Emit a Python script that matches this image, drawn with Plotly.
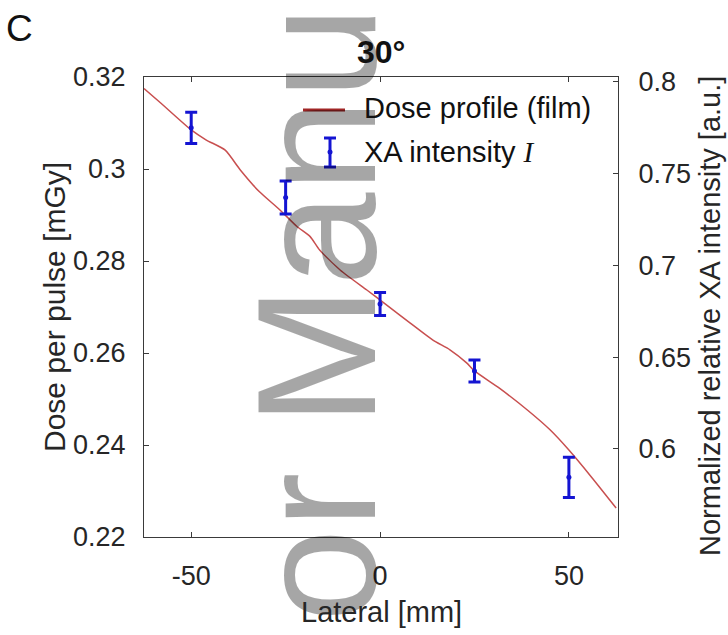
import plotly.graph_objects as go

# Film dose profile along the lateral direction (left axis)
lateral_mm = [-62.5, -58, -50, -46, -41, -37, -32, -26.5, -22, -18.5, -16, -10.5,
              -3.5, 1, 8, 14, 18.5, 23, 25, 31.5, 39, 45, 50, 56, 62.5]
dose_mgy = [0.3175, 0.3143, 0.3085, 0.3063, 0.3041, 0.2998, 0.2951, 0.2911,
            0.2875, 0.2853, 0.2824, 0.2780, 0.2737, 0.2709, 0.2665, 0.2628,
            0.2607, 0.2578, 0.2561, 0.2524, 0.2476, 0.2433, 0.2389, 0.2330, 0.2263]

# XA intensity measurements with uncertainties (right axis)
xa_lateral = [-50, -25, 0, 25, 50]
xa_intensity = [0.775, 0.737, 0.679, 0.6425, 0.5845]
xa_error = [0.0085, 0.009, 0.0063, 0.006, 0.011]

# Tick values and labels
x_ticks = [-50, 0, 50]
x_ticktext = ["-50", "0", "50"]
dose_ticks = [0.22, 0.24, 0.26, 0.28, 0.30, 0.32]
dose_ticktext = ["0.22", "0.24", "0.26", "0.28", "0.3", "0.32"]
xa_ticks = [0.6, 0.65, 0.7, 0.75, 0.8]
xa_ticktext = ["0.6", "0.65", "0.7", "0.75", "0.8"]

TEXT = "#262626"
AXIS = "#3a3a3a"
FONT = "Liberation Sans, Arial, sans-serif"
LINE_RED = "#c84f4f"
LEGEND_RED = "#a02525"
BLUE = "#1414d2"

fig = go.Figure()

fig.add_trace(go.Scatter(
    x=lateral_mm, y=dose_mgy, mode="lines",
    line=dict(color=LINE_RED, width=1.5, shape="spline", smoothing=0.6),
    name="Dose profile (film)", yaxis="y", showlegend=False,
))

fig.add_trace(go.Scatter(
    x=xa_lateral, y=xa_intensity, mode="markers",
    marker=dict(color=BLUE, size=5),
    error_y=dict(type="data", array=xa_error, color=BLUE, thickness=3, width=6),
    name="XA intensity I", yaxis="y2", showlegend=False,
))

W, H = 728, 635
L, R, T, B = 144, 110, 77, 98
pw, ph = W - L - R, H - T - B


def px(x):
    return (x - L) / pw


def py(y):
    return (H - B - y) / ph


axis_common = dict(
    showline=True, linecolor=AXIS, linewidth=1.2,
    ticks="inside", ticklen=5, tickcolor=AXIS, tickwidth=1,
    showgrid=False, zeroline=False,
    tickfont=dict(family=FONT, size=27, color=TEXT),
)

fig.update_layout(
    width=W, height=H,
    margin=dict(l=L, r=R, t=T, b=B),
    paper_bgcolor="white", plot_bgcolor="white",
    showlegend=False,
    xaxis=dict(range=[-62.5, 63], tickvals=x_ticks, ticktext=x_ticktext,
               mirror="ticks", ticklabelstandoff=14, **axis_common),
    yaxis=dict(range=[0.22, 0.32], tickvals=dose_ticks, ticktext=dose_ticktext,
               ticklabelstandoff=12, **axis_common),
    yaxis2=dict(range=[0.552, 0.8027], tickvals=xa_ticks, ticktext=xa_ticktext,
                overlaying="y", side="right", ticklabelstandoff=14, **axis_common),
)

annotations = []

# Background watermark
annotations.append(dict(
    text="or Manu", x=px(317), y=py(314), xref="paper", yref="paper",
    xanchor="center", yanchor="middle", textangle=-90, showarrow=False,
    font=dict(family=FONT, size=168, color="rgba(0,0,0,0.35)"),
))

# Panel letter and title
annotations.append(dict(
    text="C", x=px(20), y=py(29), xref="paper", yref="paper",
    xanchor="center", yanchor="middle", showarrow=False,
    font=dict(family=FONT, size=37, color="#111111"),
))
annotations.append(dict(
    text="<b>30°</b>", x=0.5, y=py(52), xref="paper", yref="paper",
    xanchor="center", yanchor="middle", showarrow=False,
    font=dict(family=FONT, size=32, color="#111111"),
))

# Axis titles
annotations.append(dict(
    text="Lateral [mm]", x=0.5, y=py(612), xref="paper", yref="paper",
    xanchor="center", yanchor="middle", showarrow=False,
    font=dict(family=FONT, size=29, color=TEXT),
))
annotations.append(dict(
    text="Dose per pulse [mGy]", x=px(54), y=0.5, xref="paper", yref="paper",
    xanchor="center", yanchor="middle", textangle=-90, showarrow=False,
    font=dict(family=FONT, size=30, color=TEXT),
))
annotations.append(dict(
    text="Normalized relative XA intensity [a.u.]", x=px(710), y=py(316),
    xref="paper", yref="paper", xanchor="center", yanchor="middle",
    textangle=-90, showarrow=False,
    font=dict(family=FONT, size=29, color=TEXT),
))

# Legend entries
annotations.append(dict(
    text="Dose profile (film)", x=px(362), y=py(108), xref="paper", yref="paper",
    xanchor="left", yanchor="middle", showarrow=False,
    font=dict(family=FONT, size=29, color="#111111"),
))
annotations.append(dict(
    text="XA intensity <i><span style='font-family:Liberation Serif, Times New Roman, serif'>I</span></i>",
    x=px(362), y=py(152), xref="paper", yref="paper",
    xanchor="left", yanchor="middle", showarrow=False,
    font=dict(family=FONT, size=29, color="#111111"),
))
fig.update_layout(annotations=annotations)

# Legend symbols
shapes = [
    dict(type="line", xref="paper", yref="paper", x0=px(303), x1=px(345),
         y0=py(110), y1=py(110), line=dict(color=LEGEND_RED, width=3)),
    dict(type="line", xref="paper", yref="paper", x0=px(330), x1=px(330),
         y0=py(138), y1=py(167), line=dict(color=BLUE, width=3)),
    dict(type="line", xref="paper", yref="paper", x0=px(324), x1=px(336),
         y0=py(138), y1=py(138), line=dict(color=BLUE, width=3)),
    dict(type="line", xref="paper", yref="paper", x0=px(324), x1=px(336),
         y0=py(167), y1=py(167), line=dict(color=BLUE, width=3)),
    dict(type="circle", xref="paper", yref="paper", x0=px(327.5), x1=px(332.5),
         y0=py(149.5), y1=py(154.5), fillcolor=BLUE, line=dict(width=0)),
]
fig.update_layout(shapes=shapes)

fig.write_html("out.html")
